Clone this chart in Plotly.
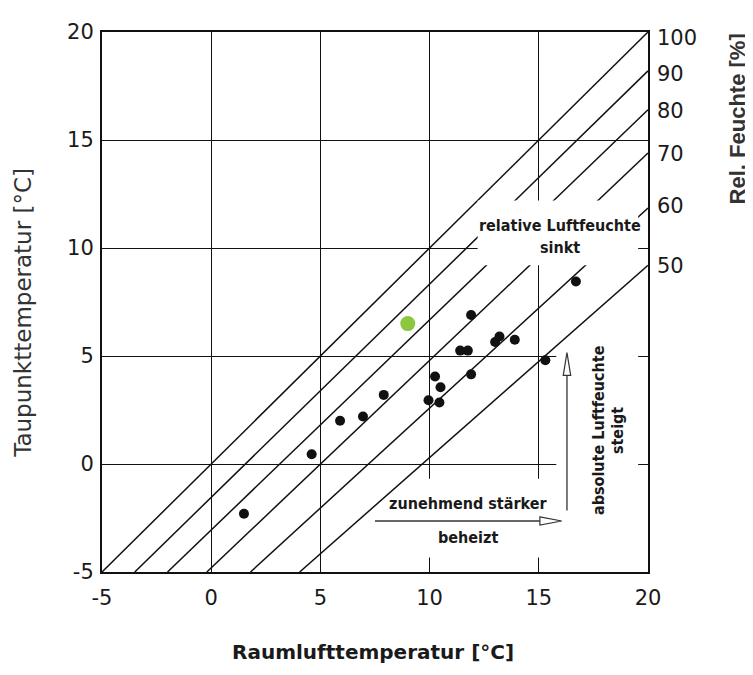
import plotly.graph_objects as go

# ---- data ----
raum_temp = [1.5, 4.6, 5.9, 6.95, 7.9, 9.95, 10.45, 10.25, 10.5, 11.9, 11.4, 11.75, 11.9, 13.0, 13.2, 13.9, 15.3, 16.7]
taupunkt = [-2.3, 0.45, 2.0, 2.2, 3.2, 2.95, 2.85, 4.05, 3.55, 4.15, 5.25, 5.25, 6.9, 5.65, 5.9, 5.75, 4.8, 8.45]
green_raum = [9.0]
green_tau = [6.5]

rh_levels = [100, 90, 80, 70, 60, 50]
rh_x_at_bottom = [-5.0, -3.5, -2.0, -0.2, 1.8, 4.05]   # where each line meets y = -5
rh_y_at_right = [20.0, 18.2, 16.4, 14.4, 11.85, 9.2]   # where each line meets x = 20
rh_label_pos = [19.75, 18.05, 16.38, 14.36, 11.95, 9.18]
rh_label_text = ["100", "90", "80", "70", "60", "50"]

axis_ticks = [-5, 0, 5, 10, 15, 20]
X_MIN, X_MAX, Y_MIN, Y_MAX = -5, 20, -5, 20

TICK_FONT = dict(family="DejaVu Sans, Liberation Sans, Arial", size=21, color="#1a1a1a")
NOTE_FONT = dict(family="Liberation Sans Narrow, DejaVu Sans Condensed, Liberation Sans, Arial",
                 size=16, color="#1a1a1a", weight="bold")

fig = go.Figure()

for lvl, xs, ye in zip(rh_levels, rh_x_at_bottom, rh_y_at_right):
    fig.add_trace(go.Scatter(x=[xs, X_MAX], y=[Y_MIN, ye], mode="lines",
                             line=dict(color="#111111", width=1.5),
                             hoverinfo="skip", showlegend=False, name=f"{lvl} %"))

fig.add_trace(go.Scatter(x=raum_temp, y=taupunkt, mode="markers",
                         marker=dict(color="#111111", size=10), showlegend=False))
fig.add_trace(go.Scatter(x=green_raum, y=green_tau, mode="markers",
                         marker=dict(color="#8dc63f", size=15), showlegend=False))
# invisible trace for the right axis
fig.add_trace(go.Scatter(x=[X_MAX], y=[Y_MAX], yaxis="y2", mode="markers",
                         marker=dict(opacity=0), hoverinfo="skip", showlegend=False))

white = dict(type="rect", xref="x", yref="y", fillcolor="white", line=dict(width=0), layer="above")
shapes = [
    dict(white, x0=12.2, x1=19.55, y0=9.2, y1=12.2),
    dict(white, x0=9.3, x1=16.1, y0=-4.33, y1=-0.68),
    dict(white, x0=15.8, x1=19.55, y0=-4.33, y1=5.3),
    # horizontal arrow
    dict(type="line", xref="x", yref="y", x0=7.5, x1=15.05, y0=-2.64, y1=-2.64,
         line=dict(color="#333333", width=1.3), layer="above"),
    dict(type="path", xref="x", yref="y", path="M 15.05,-2.45 L 16.05,-2.64 L 15.05,-2.83 Z",
         fillcolor="white", line=dict(color="#333333", width=1.2), layer="above"),
    # vertical arrow
    dict(type="line", xref="x", yref="y", x0=16.29, x1=16.29, y0=-2.15, y1=4.1,
         line=dict(color="#333333", width=1.3), layer="above"),
    dict(type="path", xref="x", yref="y", path="M 16.12,4.1 L 16.29,5.16 L 16.46,4.1 Z",
         fillcolor="white", line=dict(color="#333333", width=1.2), layer="above"),
]

C = dict(showarrow=False, xanchor="center", yanchor="middle")
annotations = [
    dict(C, x=15.97, y=11.04, xref="x", yref="y", text="relative Luftfeuchte", font=NOTE_FONT),
    dict(C, x=15.97, y=10.03, xref="x", yref="y", text="sinkt", font=NOTE_FONT),
    dict(C, x=11.76, y=-1.83, xref="x", yref="y", text="zunehmend stärker", font=NOTE_FONT),
    dict(C, x=11.76, y=-3.39, xref="x", yref="y", text="beheizt", font=NOTE_FONT),
    dict(C, x=17.71, y=1.57, xref="x", yref="y", text="absolute Luftfeuchte", textangle=-90, font=NOTE_FONT),
    dict(C, x=18.58, y=1.57, xref="x", yref="y", text="steigt", textangle=-90, font=NOTE_FONT),
    dict(C, x=-0.1447, y=0.48, xref="paper", yref="paper", text="Taupunkttemperatur [°C]", textangle=-90,
         font=dict(family="DejaVu Sans, Liberation Sans", size=23, color="#333333")),
    dict(C, x=0.496, y=-0.149, xref="paper", yref="paper", text="Raumlufttemperatur [°C]",
         font=dict(family="DejaVu Sans, Liberation Sans", size=20, color="#1a1a1a", weight="bold")),
    dict(C, x=1.163, y=0.840, xref="paper", yref="paper", text="Rel. Feuchte [%]", textangle=-90,
         font=dict(family="Liberation Sans, Arial", size=22, color="#333333", weight="bold")),
]

fig.update_layout(
    width=753, height=675,
    margin=dict(l=94, r=113, t=20, b=111),
    paper_bgcolor="white", plot_bgcolor="white",
    showlegend=False,
    shapes=shapes, annotations=annotations,
    xaxis=dict(range=[X_MIN, X_MAX], tickvals=axis_ticks, ticktext=[str(v) for v in axis_ticks],
               showgrid=True, gridcolor="#111111", gridwidth=1.4, zeroline=False,
               showline=True, linecolor="#111111", linewidth=2, mirror=True,
               ticks="", tickfont=TICK_FONT, ticklabelstandoff=6),
    yaxis=dict(range=[Y_MIN, Y_MAX], tickvals=axis_ticks, ticktext=[str(v) for v in axis_ticks],
               showgrid=True, gridcolor="#111111", gridwidth=1.4, zeroline=False,
               showline=True, linecolor="#111111", linewidth=2, mirror=True,
               ticks="", tickfont=TICK_FONT, ticklabelstandoff=2),
    yaxis2=dict(range=[Y_MIN, Y_MAX], overlaying="y", side="right",
                tickvals=rh_label_pos, ticktext=rh_label_text,
                showgrid=False, zeroline=False, showline=False, ticks="",
                tickfont=TICK_FONT, ticklabelstandoff=8),
)

fig.write_html("out.html")
